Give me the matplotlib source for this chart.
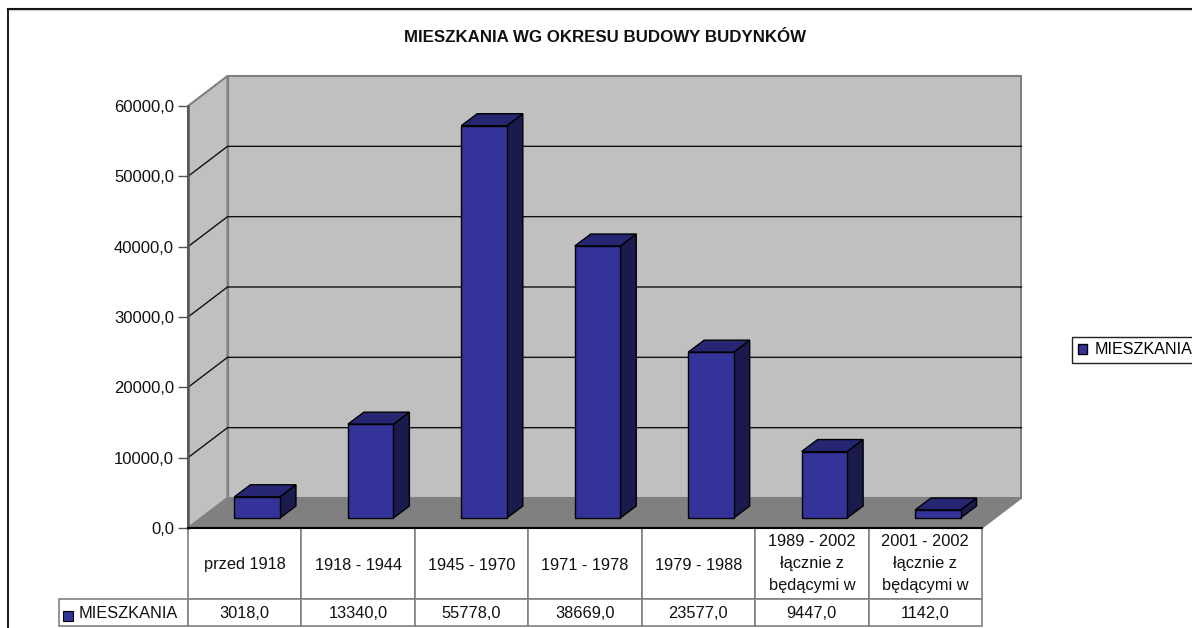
#!/usr/bin/env python
# -*- coding: utf-8 -*-
"""Excel-style fake 3D column chart: mieszkania wg okresu budowy budynkow."""

import matplotlib
matplotlib.use('Agg')
import matplotlib.pyplot as plt
import matplotlib.patches as mpatches
from matplotlib.lines import Line2D
from matplotlib.patches import Polygon, Rectangle

plt.rcParams['font.family'] = ['Liberation Sans', 'DejaVu Sans']

categories = ['przed 1918', '1918 - 1944', '1945 - 1970', '1971 - 1978', '1979 - 1988',
              '1989 - 2002\nłącznie z\nbędącymi w', '2001 - 2002\nłącznie z\nbędącymi w']
values = [3018, 13340, 55778, 38669, 23577, 9447, 1142]
y_ticks = [0, 10000, 20000, 30000, 40000, 50000, 60000]
series_name = 'MIESZKANIA'
title = 'MIESZKANIA WG OKRESU BUDOWY BUDYNKÓW'

W, H = 1192, 628
FRONT, TOP, SIDE = '#333399', '#262673', '#1a1a4d'

fig = plt.figure(figsize=(W / 100, H / 100), dpi=100)
# the axes is the front plane of the 3D box, everything else is offset from it
ax = fig.add_axes([188 / W, 1 - 528 / H, 794 / W, 422 / H])
ax.set_xlim(0, len(values))
ax.set_ylim(0, 60000)
ax.patch.set_visible(False)
for s in ax.spines.values():
    s.set_visible(False)

# px to data units
ux = len(values) / 794
uy = 60000 / 422
box_dx, box_dy = 39.5 * ux, 30 * uy
bar_dx, bar_dy = 16 * ux, 12 * uy
off_dx, off_dy = 12.5 * ux, 10 * uy
bar_w = 45.5 * ux
n = len(values)


def poly(pts, color, edge, lw=1.0, z=1):
    ax.add_patch(Polygon(pts, closed=True, facecolor=color, edgecolor=edge, linewidth=lw,
                         clip_on=False, zorder=z, joinstyle='miter'))


# back wall, side wall and floor
poly([(box_dx, box_dy), (n + box_dx, box_dy), (n + box_dx, 60000 + box_dy), (box_dx, 60000 + box_dy)],
     '#c0c0c0', '#808080', 1.5)
poly([(0, 0), (box_dx, box_dy), (box_dx, 60000 + box_dy), (0, 60000)], '#c0c0c0', '#808080', 1.5)
poly([(0, 0), (n, 0), (n + box_dx, box_dy), (box_dx, box_dy)], '#808080', '#808080', 1.0)

# gridlines run along the side wall then the back wall
for t in y_ticks[1:-1]:
    ax.plot([0, box_dx, n + box_dx], [t, t + box_dy, t + box_dy], color='#111111', lw=1.0,
            clip_on=False, zorder=2, solid_joinstyle='miter')

ax.plot([0, 0], [0, 60000], color='#555555', lw=1.8, clip_on=False, zorder=3)
ax.plot([0, n], [0, 0], color='black', lw=1.5, clip_on=False, zorder=11)

# columns
for i, v in enumerate(values):
    x0 = i + (1 - bar_w) / 2 + off_dx
    x1 = x0 + bar_w
    y0 = off_dy
    y1 = off_dy + v
    poly([(x1, y0), (x1 + bar_dx, y0 + bar_dy), (x1 + bar_dx, y1 + bar_dy), (x1, y1)], SIDE, 'black', 1.0, 4)
    poly([(x0, y1), (x1, y1), (x1 + bar_dx, y1 + bar_dy), (x0 + bar_dx, y1 + bar_dy)], TOP, 'black', 1.0, 4)
    poly([(x0, y0), (x1, y0), (x1, y1), (x0, y1)], FRONT, 'black', 1.0, 5)

ax.set_xticks([])
ax.set_yticks(y_ticks)
ax.set_yticklabels([f'{t:.1f}'.replace('.', ',') for t in y_ticks], fontsize=12, color='#111111')
ax.tick_params(axis='y', length=7, width=1.0, color='#555555', pad=3)

fig.text(605.5 / W, 1 - 37 / H, title, ha='center', va='center', fontsize=12.2, fontweight='bold', color='#111111')

# data table below the plot, first column holds the series name
cell_text = [[series_name] + [f'{v:.1f}'.replace('.', ',') for v in values]]
tab = ax.table(cellText=cell_text, colLabels=[''] + categories, cellLoc='center',
               bbox=[(59 - 188) / 794, (528 - 626) / 422, (982 - 59) / 794, 98 / 422])
tab.auto_set_font_size(False)
for (row, col), cell in tab.get_celld().items():
    cell.set_edgecolor('#808080')
    cell.set_linewidth(1.2)
    cell.set_height(71 / 422 if row == 0 else 27 / 422)
    cell.set_width(129 / 794 if col == 0 else 1 / n)
    txt = cell.get_text()
    txt.set_fontsize(11.8)
    txt.set_color('#111111')
    txt.set_linespacing(1.6)
    # center_baseline pushes multi-line labels too low
    txt.set_verticalalignment('center' if '\n' in txt.get_text() else 'center_baseline')
    cell.PAD = 0.01
    if col == 0:
        cell.PAD = 20 / 129
        cell.set_text_props(ha='left')
        if row == 0:
            cell.visible_edges = ''

# key swatch inside the table row label
fig.add_artist(Rectangle((63 / W, 1 - 621 / H), 10 / W, 10 / H, transform=fig.transFigure,
                         facecolor=FRONT, edgecolor='black', linewidth=0.8, zorder=20))

# legend frame runs off the right edge, like the source
handle = mpatches.Patch(facecolor=FRONT, edgecolor='black', label=series_name)
leg = fig.legend(handles=[handle], loc='lower left', bbox_to_anchor=(1072 / W, 1 - 363 / H),
                 fontsize=11.6, fancybox=False, edgecolor='#222222', framealpha=1, borderpad=0.35,
                 handlelength=0.6, handleheight=0.6, handletextpad=0.45, borderaxespad=0)
leg.get_frame().set_linewidth(1.0)

# outer chart border, open at the bottom
fig.add_artist(Line2D([8 / W, 8 / W], [0, 1 - 8.5 / H], color='#222222', lw=1.5))
fig.add_artist(Line2D([8 / W, 1], [1 - 8.5 / H, 1 - 8.5 / H], color='#111111', lw=1.5))
fig.add_artist(Line2D([9 / W, 1], [1 - 9.8 / H, 1 - 9.8 / H], color='#cccccc', lw=0.8))

fig.savefig('out.png', dpi=100)
